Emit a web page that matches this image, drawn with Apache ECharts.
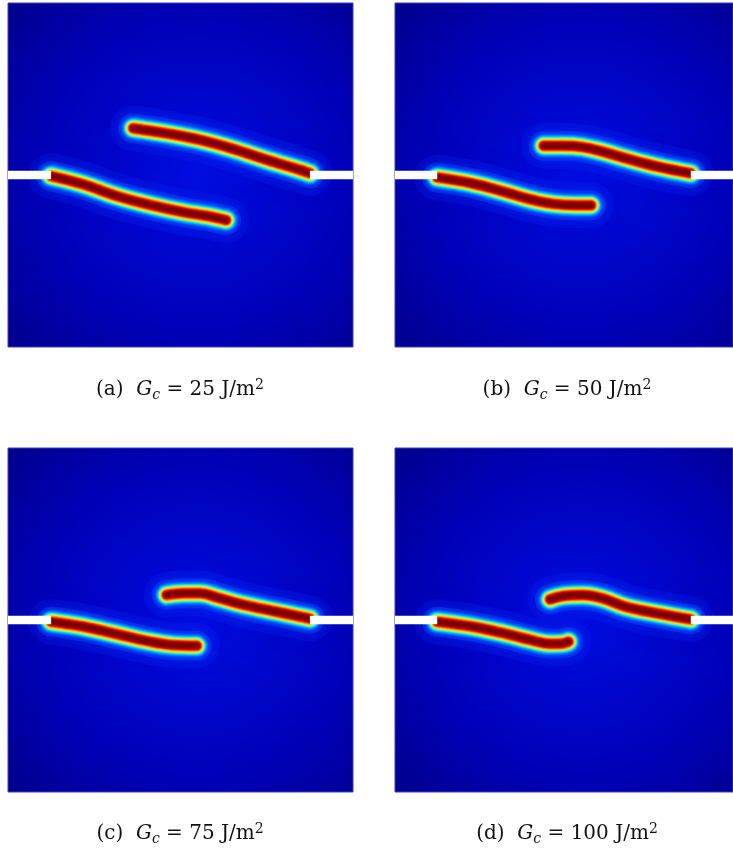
<!DOCTYPE html>
<html>
<head>
<meta charset="utf-8">
<script src="https://cdn.jsdelivr.net/npm/echarts@6/dist/echarts.min.js"></script>
<style>
html,body{margin:0;padding:0;background:#fff;}
#chart{width:733px;height:855px;}
</style>
</head>
<body>
<div id="chart"></div>
<script>
// ---- data (domain coordinates, 0..100 in x and y) ----
const panelLabels = ['(a)', '(b)', '(c)', '(d)'];
const gcValues = [25, 50, 75, 100];
const notchLeft = [[0, 50], [12.5, 50]];
const notchRight = [[87.5, 50], [100, 50]];

const upperA = [[36.3,63.6],[46.0,62.1],[55.7,60.2],[65.2,57.6],[75.0,54.4],[84.6,51.5],[87.5,50.5]];
const lowerA = [[12.5,49.7],[21.8,47.3],[31.5,43.9],[41.2,41.3],[50.8,39.2],[57.6,38.1],[63.2,36.9]];

const upperB = [[44.0,58.5],[49.8,58.5],[55.6,58.1],[61.4,56.8],[68.1,54.9],[77.8,52.4],[87.5,50.5]];
const lowerB = [[12.5,49.3],[22.7,47.6],[32.4,45.1],[40.1,42.9],[46.9,41.6],[53.6,41.2],[58.0,41.2]];

const upperC = [[46.0,57.3],[50.8,57.8],[55.7,57.8],[60.5,56.6],[67.2,54.7],[77.9,52.4],[87.5,50.4]];
const lowerC = [[12.5,49.5],[21.8,48.1],[31.5,45.9],[41.2,43.7],[47.9,42.7],[54.7,42.5]];

const upperD = [[45.9,56.0],[49.8,57.0],[55.6,57.3],[61.4,56.3],[68.1,53.9],[77.8,51.9],[87.5,50.2]];
const lowerD = [[12.5,49.5],[22.7,48.1],[32.4,46.1],[40.1,44.2],[45.9,43.1],[49.5,43.2],[51.3,43.7]];

const cracks = [[upperA, lowerA], [upperB, lowerB], [upperC, lowerC], [upperD, lowerD]];

// ---- layout & styles ----
const gridPos = [[8, 3], [395, 3], [8, 448], [395, 448]];
const gridW = 345, gridH = 344;
const captionPos = [[180, 390], [567, 390], [180, 834], [567, 834]];

// jet-like halo layers (outer -> inner)
const layers = [
  {w: 46, c: 'rgba(0,50,255,0.2)', b: 26},
  {w: 30, c: 'rgba(0,70,255,0.45)', b: 10},
  {w: 22, c: '#0060ff', b: 4},
  {w: 20, c: '#0090ff', b: 3},
  {w: 18, c: '#00c8ff', b: 2},
  {w: 16.5, c: '#20f0f0', b: 2},
  {w: 15, c: '#70ff90', b: 2},
  {w: 13.5, c: '#d0ff30', b: 2},
  {w: 12.5, c: '#ffe000', b: 2},
  {w: 11, c: '#ffa000', b: 2},
  {w: 9.5, c: '#ff4000', b: 2},
  {w: 8, c: '#e00000', b: 2},
  {w: 6.5, c: '#b00000', b: 1.5},
  {w: 5, c: '#880000', b: 1},
  {w: 3.5, c: '#7a0000', b: 0}
];

const grid = [], xAxis = [], yAxis = [], series = [], graphic = [];
gridPos.forEach((p, i) => {
  grid.push({
    left: p[0], top: p[1], width: gridW, height: gridH, show: true,
    backgroundColor: new echarts.graphic.RadialGradient(0.55, 0.5, 0.75, [
      {offset: 0, color: '#000ee0'},
      {offset: 0.3, color: '#0006cc'},
      {offset: 0.65, color: '#0000b4'},
      {offset: 1, color: '#00008c'}
    ]),
    borderColor: '#3c3cc0', borderWidth: 1
  });
  xAxis.push({gridIndex: i, type: 'value', min: 0, max: 100, show: false});
  yAxis.push({gridIndex: i, type: 'value', min: 0, max: 100, show: false});
  layers.forEach((L, k) => {
    cracks[i].forEach((crack) => {
      series.push({
        type: 'line', xAxisIndex: i, yAxisIndex: i, data: crack,
        smooth: 0.4, symbol: 'none', silent: true, animation: false, clip: true,
        z: 2 + k,
        lineStyle: {width: L.w, color: L.c, cap: 'round', join: 'round',
          shadowBlur: L.b, shadowColor: L.c}
      });
    });
  });
  [notchLeft, notchRight].forEach((n) => {
    series.push({
      type: 'line', xAxisIndex: i, yAxisIndex: i, data: n,
      symbol: 'none', silent: true, animation: false, clip: true, z: 30,
      lineStyle: {width: 8.5, color: '#ffffff', cap: 'butt'}
    });
  });
  graphic.push({
    type: 'text', x: captionPos[i][0], y: captionPos[i][1], z: 100,
    style: {
      text: panelLabels[i] + '  {i|G}{s|c} {e|=} ' + gcValues[i] + ' J/m{p|2}',
      align: 'center', verticalAlign: 'middle',
      font: '20px "DejaVu Serif", serif', fill: '#111',
      rich: {
        i: {fontStyle: 'italic', fontSize: 20, fontFamily: 'DejaVu Serif', lineHeight: 28, verticalAlign: 'middle'},
        e: {fontSize: 20, fontFamily: 'DejaVu Serif', lineHeight: 28, verticalAlign: 'middle'},
        s: {fontStyle: 'italic', fontSize: 14, fontFamily: 'DejaVu Serif', lineHeight: 28, verticalAlign: 'bottom', padding: [0, 0, 2, 0]},
        p: {fontSize: 14, fontFamily: 'DejaVu Serif', lineHeight: 28, verticalAlign: 'top', padding: [2, 0, 0, 0]}
      }
    }
  });
});

const chart = echarts.init(document.getElementById('chart'), null, {renderer: 'canvas'});
chart.setOption({
  backgroundColor: '#ffffff',
  animation: false,
  grid, xAxis, yAxis, series, graphic
});
</script>
</body>
</html>
